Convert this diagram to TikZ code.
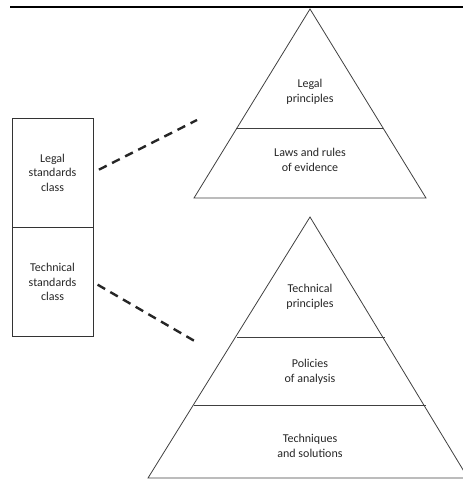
\documentclass[tikz,border=0pt]{standalone}
\usepackage{fontspec}
\setmainfont{Carlito}
\usetikzlibrary{positioning}

\begin{document}
\begin{tikzpicture}[x=0.75pt, y=-0.75pt,
  cell/.style={draw=black!80, line width=0.6pt, minimum width=60.75pt, minimum height=82pt,
               inner sep=0pt, outer sep=0pt, font=\fontsize{9}{11}\selectfont, align=center, text=black!85},
  lvl/.style={font=\fontsize{9}{11}\selectfont, align=center, text=black!85},
  edge/.style={draw=black!75, line width=0.6pt},
  link/.style={dash pattern=on 6.5pt off 4.5pt, line width=1.8pt, black!85},
]
  \useasboundingbox (0,0) rectangle (463,481);
  \draw[line width=1.2pt] (10,7) -- (463,7);

  \node[cell, anchor=north west] (legal) at (12,118) {Legal\\standards\\class};
  \node[cell, below=0pt of legal] (tech) {Technical\\standards\\class};

  \coordinate (top1) at (310,9);
  \coordinate (bl1) at (194,198);
  \coordinate (br1) at (426,198);
  \draw[edge] (top1) -- (br1) -- (bl1) -- cycle;
  \draw[edge] (236,128) -- (383,128);
  \node[lvl] (lprin) at (310,92) {Legal\\principles};
  \node[lvl] (laws) at (310,160) {Laws and rules\\of evidence};

  \coordinate (top2) at (310,217);
  \coordinate (bl2) at (148,478);
  \coordinate (br2) at (468,478);
  \draw[edge] (top2) -- (br2) -- (bl2) -- cycle;
  \draw[edge] (237,337) -- (385,337);
  \draw[edge] (194,405) -- (426,405);
  \node[lvl] (tprin) at (310,297) {Technical\\principles};
  \node[lvl] (pol) at (310,372) {Policies\\of analysis};
  \node[lvl] (techq) at (310,446) {Techniques\\and solutions};

  \coordinate (lend) at (197,120);
  \coordinate (tend) at (198,343);
  \draw[link, shorten <=5pt] (legal.east) -- (lend);
  \draw[link, shorten <=4pt] (tech.east) -- (tend);
\end{tikzpicture}
\end{document}
